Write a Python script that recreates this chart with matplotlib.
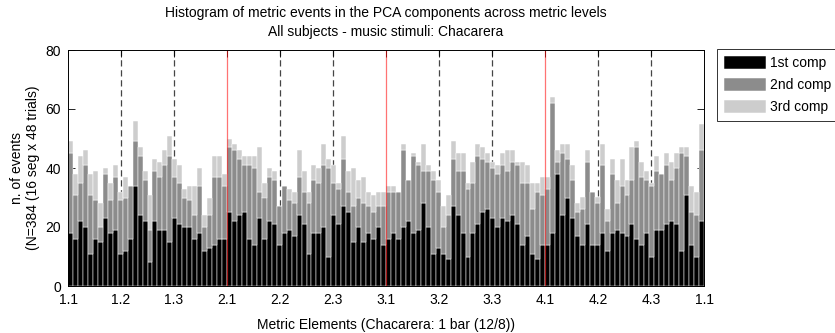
import numpy as np
import matplotlib
matplotlib.use("Agg")
import matplotlib.pyplot as plt

plt.rcParams['font.family'] = ['Liberation Sans', 'DejaVu Sans']
plt.rcParams['font.size'] = 10

# black = 1st comp, mid = 1st+2nd, top = 1st+2nd+3rd (stack heights)
comp1 = [18, 16, 22, 20, 11, 16, 15, 23, 18, 19, 11, 12, 16, 34, 24, 22,
         8, 22, 19, 19, 15, 23, 21, 20, 20, 16, 18, 12, 13, 14, 16, 16,
         25, 22, 24, 25, 16, 14, 23, 16, 22, 21, 14, 18, 19, 17, 24, 21,
         11, 18, 18, 20, 10, 24, 21, 27, 25, 15, 20, 15, 18, 16, 20, 14,
         16, 18, 16, 20, 22, 18, 19, 28, 20, 11, 13, 11, 9, 27, 24, 18,
         10, 18, 21, 25, 26, 23, 20, 23, 22, 24, 21, 14, 17, 11, 9, 14,
         14, 18, 38, 24, 30, 23, 17, 14, 21, 14, 14, 18, 12, 18, 19, 18,
         17, 21, 16, 14, 18, 10, 19, 19, 21, 22, 21, 12, 31, 14, 10, 22]
top12 = [45, 31, 35, 41, 31, 29, 20, 38, 29, 37, 29, 30, 34, 49, 44, 36,
         19, 39, 37, 41, 44, 37, 35, 30, 29, 24, 34, 20, 24, 37, 37, 34,
         47, 46, 43, 41, 41, 40, 32, 30, 37, 36, 27, 34, 29, 28, 37, 32,
         28, 36, 35, 41, 40, 35, 33, 43, 32, 27, 30, 28, 27, 25, 27, 27,
         32, 32, 32, 46, 36, 44, 41, 39, 39, 36, 32, 20, 24, 43, 39, 39,
         33, 35, 44, 43, 42, 40, 38, 41, 39, 42, 41, 35, 35, 26, 32, 31,
         33, 62, 42, 45, 43, 36, 25, 26, 42, 32, 28, 41, 22, 38, 28, 34,
         31, 36, 47, 37, 36, 34, 39, 38, 41, 36, 40, 45, 44, 25, 24, 46]
top123 = [49, 38, 44, 46, 38, 39, 28, 40, 35, 41, 32, 37, 34, 56, 47, 39,
          31, 43, 42, 46, 51, 43, 41, 33, 34, 34, 40, 24, 30, 44, 44, 38,
          50, 48, 46, 44, 44, 44, 47, 35, 40, 39, 27, 34, 33, 32, 46, 39,
          32, 41, 40, 48, 43, 41, 35, 51, 39, 40, 36, 37, 32, 31, 32, 32,
          34, 34, 32, 48, 36, 45, 42, 48, 41, 39, 36, 27, 31, 49, 45, 45,
          35, 42, 48, 47, 45, 42, 41, 45, 46, 46, 42, 42, 41, 35, 35, 37,
          37, 64, 46, 48, 48, 41, 28, 30, 46, 32, 30, 48, 26, 43, 36, 43,
          36, 47, 49, 42, 39, 35, 44, 38, 45, 42, 45, 47, 47, 34, 32, 55]

tick_labels = ['1.1', '1.2', '1.3', '2.1', '2.2', '2.3', '3.1', '3.2', '3.3',
               '4.1', '4.2', '4.3', '1.1']
beat_marks = ['1.2', '1.3', '2.2', '2.3', '3.2', '3.3', '4.2', '4.3']
bar_marks = ['2.1', '3.1', '4.1']
legend_labels = ['1st comp', '2nd comp', '3rd comp']

c1 = np.array(comp1)
c2 = np.array(top12) - c1
c3 = np.array(top123) - np.array(top12)

nbins = len(c1)
x = np.arange(nbins) + 0.5
tick_pos = np.linspace(0, nbins, len(tick_labels))

fig = plt.figure(figsize=(8.35, 3.33), dpi=100)
ax = fig.add_axes([68 / 835, 47 / 333, 636 / 835, 236 / 333])

for i, lab in enumerate(tick_labels[:-1]):
    if lab in beat_marks:
        ax.plot([tick_pos[i]] * 2, [0, 80], color='#454545', ls=(0, (5, 3)),
                lw=0.9, zorder=1)

cols = ['#000000', '#8c8c8c', '#cdcdcd']
b1 = ax.bar(x, c1, width=1.0, color=cols[0], edgecolor='white', lw=0.35, zorder=2)
b2 = ax.bar(x, c2, width=1.0, bottom=c1, color=cols[1], edgecolor='white', lw=0.35, zorder=2)
b3 = ax.bar(x, c3, width=1.0, bottom=c1 + c2, color=cols[2], edgecolor='white', lw=0.35, zorder=2)

for i, lab in enumerate(tick_labels[:-1]):
    if lab in bar_marks:
        ax.plot([tick_pos[i]] * 2, [0, 80], color='red', lw=0.9, alpha=0.55, zorder=3)

ax.set_xlim(0, nbins)
ax.set_ylim(0, 80)
ax.set_xticks(tick_pos)
ax.set_xticklabels(tick_labels)
ax.set_yticks([0, 20, 40, 60, 80])
ax.tick_params(direction='in', length=5, width=0.6, top=True, right=True,
               labelsize=10, zorder=4)
ax.tick_params(axis='x', pad=5)
ax.tick_params(axis='y', pad=5)
for s in ax.spines.values():
    s.set_linewidth(0.7)
    s.set_zorder(4)

ax.set_title('Histogram of metric events in the PCA components across metric levels\n'
             'All subjects - music stimuli: Chacarera', fontsize=10, pad=10,
             linespacing=1.45)
ax.set_xlabel('Metric Elements (Chacarera: 1 bar (12/8))', fontsize=10, labelpad=8)
ax.set_ylabel('n. of events\n(N=384 (16 seg x 48 trials)', fontsize=10, labelpad=4,
              linespacing=1.2)

leg = fig.legend([b1, b2, b3], legend_labels, loc='upper left',
                 bbox_to_anchor=(717 / 835, 1 - 49 / 333),
                 fontsize=10, frameon=True, fancybox=False, edgecolor='black',
                 handlelength=3.0, handleheight=1.1, handletextpad=0.35,
                 borderpad=0.5, labelspacing=0.55, borderaxespad=0)
leg.get_frame().set_linewidth(0.7)

fig.savefig('out.png', dpi=100)
